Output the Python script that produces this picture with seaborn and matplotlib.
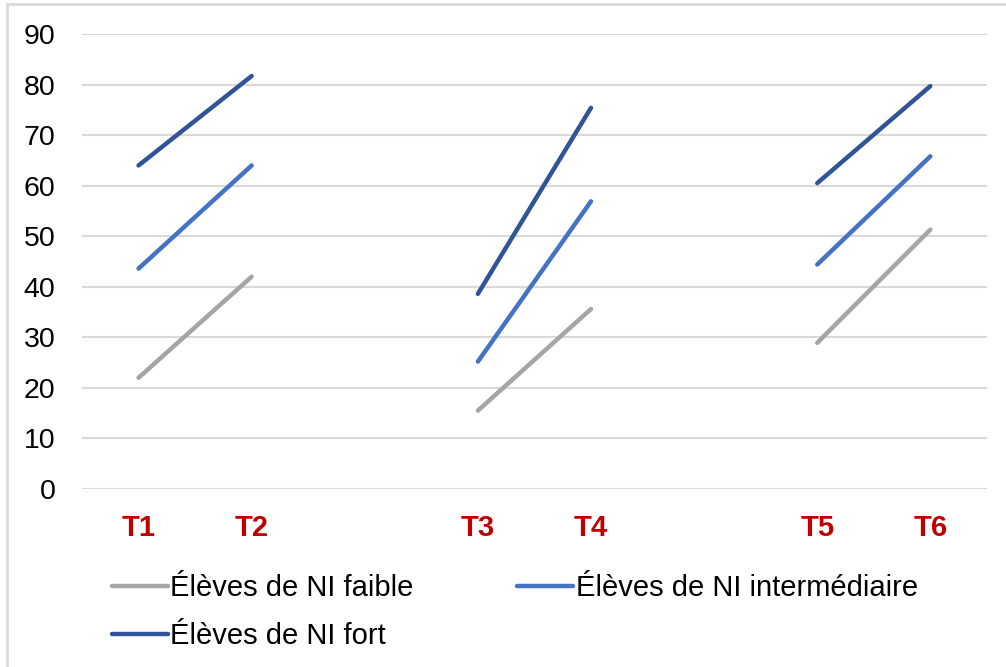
import matplotlib

matplotlib.use("Agg")
import matplotlib.pyplot as plt
import numpy as np
import pandas as pd
import seaborn as sns
from matplotlib.lines import Line2D

# Data (blank categories separate the three pairs)
periods = ["T1", "T2", "", "T3", "T4", "", "T5", "T6"]
faible = [22.0, 42.0, np.nan, 15.5, 35.6, np.nan, 28.9, 51.3]
intermediaire = [43.6, 64.0, np.nan, 25.2, 56.9, np.nan, 44.4, 65.8]
fort = [64.0, 81.7, np.nan, 38.6, 75.4, np.nan, 60.5, 79.7]

groups = ["Élèves de NI faible", "Élèves de NI intermédiaire", "Élèves de NI fort"]
colors = ["#A5A5A5", "#4472C4", "#2F5597"]

# Long-form table, one unit per pair so the pairs stay disconnected
rows = []
for name, values in zip(groups, [faible, intermediaire, fort]):
    for i, v in enumerate(values):
        if not np.isnan(v):
            rows.append({"pos": i, "score": v, "groupe": name, "paire": i // 3})
df = pd.DataFrame(rows)

sns.set_style("white")
plt.rcParams["font.family"] = ["Liberation Sans", "DejaVu Sans"]
plt.rcParams["text.color"] = "black"

fig = plt.figure(figsize=(10.06, 6.67), dpi=100)
ax = fig.add_axes([0.0815, 0.2669, 0.8995, 0.6821])

sns.lineplot(
    data=df,
    x="pos",
    y="score",
    hue="groupe",
    hue_order=groups,
    units="paire",
    estimator=None,
    palette=colors,
    linewidth=3.2,
    solid_capstyle="round",
    legend=False,
    ax=ax,
)

ax.set_xlim(-0.5, len(periods) - 0.5)
ax.set_ylim(0, 90)
ax.set_yticks(np.arange(0, 91, 10))
ax.set_xticks(range(len(periods)))
ax.set_xticklabels(periods)
ax.set_xlabel("")
ax.set_ylabel("")

ax.yaxis.grid(True, color="#D9D9D9", linewidth=1.5)
ax.xaxis.grid(False)
for s in ax.spines.values():
    s.set_visible(False)

ax.tick_params(axis="y", length=0, pad=19, labelsize=20.5, labelcolor="black")
ax.tick_params(axis="x", length=0, pad=18, labelsize=21)
for lbl in ax.get_xticklabels():
    lbl.set_color("#C00000")
    lbl.set_fontweight("bold")

# Legend, row-major order like the original
handles = [
    Line2D([], [], color=c, linewidth=3.2, solid_capstyle="round") for c in colors
]
order = [0, 2, 1]
fig.legend(
    [handles[i] for i in order],
    [groups[i] for i in order],
    ncol=2,
    loc="upper left",
    bbox_to_anchor=(0.097, 0.161),
    frameon=False,
    fontsize=21,
    labelcolor="black",
    handlelength=1.9,
    handletextpad=0.1,
    columnspacing=3.55,
    labelspacing=0.68,
    borderpad=0,
)

# Chart border (only top and left edges show in the crop)
fig.add_artist(Line2D([0.007, 1.0], [0.994, 0.994], color="#D9D9D9", linewidth=2,
                      transform=fig.transFigure))
fig.add_artist(Line2D([0.007, 0.007], [0.0, 0.994], color="#D9D9D9", linewidth=2,
                      transform=fig.transFigure))

fig.savefig("out.png", dpi=100)
